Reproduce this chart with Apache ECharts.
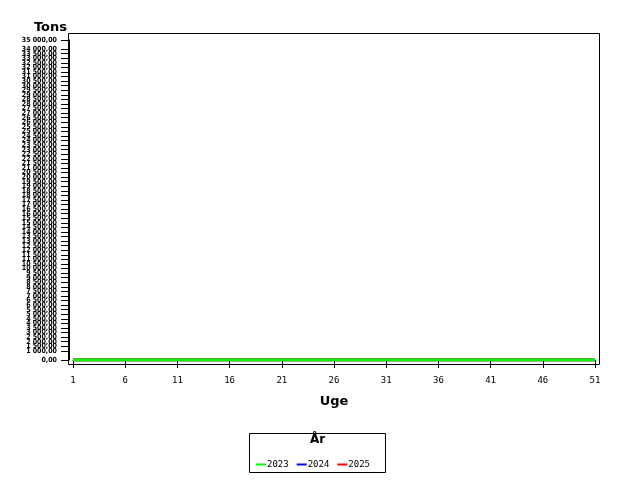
<!DOCTYPE html>
<html>
<head>
<meta charset="utf-8">
<script src="https://cdn.jsdelivr.net/npm/echarts@6/dist/echarts.min.js"></script>
<style>
  html, body { margin: 0; padding: 0; background: #fff; }
  #main { width: 640px; height: 480px; }
</style>
</head>
<body>
<div id="main"></div>
<script>
// uger 1..51
var weeks = [];
for (var w = 1; w <= 51; w++) weeks.push(String(w));

// tons pr. uge, alle aar ligger paa 0
var tons2023 = [0,0,0,0,0,0,0,0,0,0,0,0,0,0,0,0,0,0,0,0,0,0,0,0,0,0,0,0,0,0,0,0,0,0,0,0,0,0,0,0,0,0,0,0,0,0,0,0,0,0,0];
var tons2024 = [0,0,0,0,0,0,0,0,0,0,0,0,0,0,0,0,0,0,0,0,0,0,0,0,0,0,0,0,0,0,0,0,0,0,0,0,0,0,0,0,0,0,0,0,0,0,0,0,0,0,0];
var tons2025 = [0,0,0,0,0,0,0,0,0,0,0,0,0,0,0,0,0,0,0,0,0,0,0,0,0,0,0,0,0,0,0,0,0,0,0,0,0,0,0,0,0,0,0,0,0,0,0,0,0,0,0];
var years = ['2023', '2024', '2025'];

var yMin = 0, yMax = 35000, yStep = 500;

// "35 000,00"
function fmtTons(v) {
  var s = String(Math.round(v));
  s = s.replace(/\B(?=(\d{3})+(?!\d))/g, ' ');
  return s + ',00';
}

var chart = echarts.init(document.getElementById('main'), null, { renderer: 'canvas' });

var option = {
  animation: false,
  backgroundColor: '#fff',
  color: ['#00ff00', '#0000ff', '#ff0000'],
  textStyle: { fontFamily: 'DejaVu Sans' },
  grid: { left: 73, right: 45, top: 40, bottom: 120 },
  xAxis: {
    type: 'category',
    data: weeks,
    boundaryGap: false,
    offset: 5,
    name: 'Uge',
    nameLocation: 'middle',
    nameGap: 30,
    nameTextStyle: { fontSize: 13, fontWeight: 'bold', color: '#000', fontFamily: 'DejaVu Sans' },
    axisLine: { lineStyle: { color: '#000', width: 1 } },
    axisTick: { interval: 4, length: 8, lineStyle: { color: '#000' } },
    axisLabel: { interval: 4, margin: 11, fontSize: 9, color: '#000', fontFamily: 'DejaVu Sans Mono' },
    splitLine: { show: false }
  },
  yAxis: {
    type: 'value',
    min: yMin,
    max: yMax,
    interval: yStep,
    offset: 4,
    name: 'Tons',
    nameLocation: 'end',
    nameGap: 6,
    nameTextStyle: { fontSize: 13, fontWeight: 'bold', color: '#000', align: 'right', padding: [0, 2, 0, 0] },
    axisLine: { show: true, lineStyle: { color: '#000', width: 1 } },
    axisTick: { show: true, length: 8, lineStyle: { color: '#000', width: 1 } },
    axisLabel: {
      margin: 12,
      fontSize: 7,
      fontWeight: 'bold',
      color: '#000',
      fontFamily: 'DejaVu Sans Condensed',
      showMinLabel: true,
      showMaxLabel: true,
      hideOverlap: false,
      formatter: fmtTons
    },
    splitLine: { show: false }
  },
  legend: {
    data: years,
    left: 251,
    top: 455,
    itemWidth: 10,
    itemHeight: 2,
    itemGap: 8,
    icon: 'rect',
    textStyle: { fontSize: 9, color: '#000', padding: [0, 0, 0, -4], fontFamily: 'DejaVu Sans Mono' }
  },
  graphic: [
    { type: 'rect', shape: { x: 68.5, y: 33.5, width: 531, height: 331 }, style: { fill: null, stroke: '#000', lineWidth: 1 }, silent: true, z: 10 },
    { type: 'rect', shape: { x: 249.5, y: 433.5, width: 136, height: 39 }, style: { fill: null, stroke: '#000', lineWidth: 1 }, silent: true },
    { type: 'text', left: 310, top: 434, style: { text: 'År', font: 'bold 12px "DejaVu Sans"', fill: '#000' } }
  ],
  series: [
    { name: '2024', type: 'line', data: tons2024, symbol: 'none', lineStyle: { width: 3, color: '#0000ff' }, itemStyle: { color: '#0000ff' }, z: 2 },
    { name: '2025', type: 'line', data: tons2025, symbol: 'none', lineStyle: { width: 3, color: '#ff0000' }, itemStyle: { color: '#ff0000' }, z: 3 },
    { name: '2023', type: 'line', data: tons2023, symbol: 'none', lineStyle: { width: 3, color: '#00ff00' }, itemStyle: { color: '#00ff00' }, z: 4 }
  ]
};
chart.setOption(option);
</script>
</body>
</html>
